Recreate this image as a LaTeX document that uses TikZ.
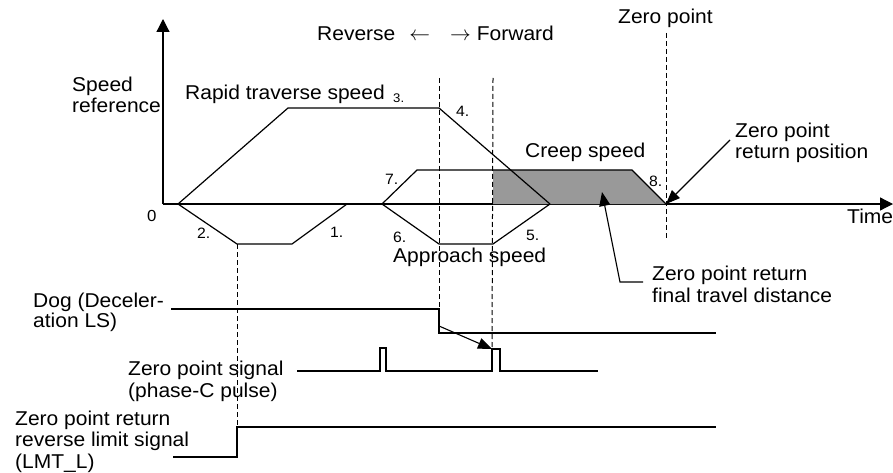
\documentclass[tikz,border=0pt]{standalone}
\usepackage{fontspec}
\setmainfont{Liberation Sans}[FakeStretch=1.05]
\usepackage{tikz}
\usetikzlibrary{arrows.meta}
\definecolor{creepgray}{RGB}{153,153,153}

\begin{document}
\begin{tikzpicture}[x=1pt, y=-1pt,
        line/.style={line width=1.2pt},
        guide/.style={line width=1pt, dash pattern=on 5pt off 3pt},
        label/.style={anchor=base west, inner sep=0pt, align=left, font=\fontsize{20}{21.5}\selectfont},
        num/.style={anchor=base west, inner sep=0pt, font=\fontsize{15}{15}\selectfont},
        arrow/.style={-{Triangle[length=13pt, width=13pt]}, line width=1.2pt},
        pointer/.style={-{Triangle[length=14pt, width=11pt]}, line width=1.1pt}
    ]
        \useasboundingbox (0,0) rectangle (893,473);

        % Axes
        \coordinate (O) at (163,204);
        \coordinate (ytop) at (163,19);
        \coordinate (xend) at (893,204);
        \draw[arrow] (O) -- (ytop);
        \draw[arrow] (O) -- (xend);

        % Speed profile points
        \coordinate (s0) at (178,204);
        \coordinate (r1) at (288,108);
        \coordinate (r2) at (439,108);
        \coordinate (r3) at (550,204);
        \coordinate (n1) at (237,244);
        \coordinate (n2) at (292,244);
        \coordinate (n3) at (347,204);
        \coordinate (a0) at (382,204);
        \coordinate (a1) at (439,244);
        \coordinate (a2) at (493,244);
        \coordinate (c1) at (417,170);
        \coordinate (c2) at (632,170);
        \coordinate (zp) at (666,204);

        % Final travel area
        \fill[creepgray] (a2 |- c1) -- (c2) -- (zp) -- (a2 |- zp) -- cycle;

        \draw[line] (s0) -- (r1) -- (r2) -- (r3);
        \draw[line] (s0) -- (n1) -- (n2) -- (n3);
        \draw[line] (a0) -- (a1) -- (a2) -- (r3);
        \draw[line] (a0) -- (c1) -- (c2) -- (zp);

        % Signals
        \coordinate (dogA) at (171,309);
        \coordinate (dogB) at (439,309);
        \coordinate (dogC) at (439,333);
        \coordinate (dogD) at (716,333);
        \draw[line] (dogA) -- (dogB) -- (dogC) -- (dogD);

        \coordinate (zsA) at (297,371);
        \coordinate (pls1) at (380,348);
        \coordinate (pls2) at (492,349);
        \coordinate (zsB) at (598,371);
        \draw[line] (zsA) -- (pls1 |- zsA) -- (pls1) -- ++(6,0) |- (pls2 |- zsA)
            -- (pls2) -- ++(8,0) |- (zsB);

        \coordinate (lmtA) at (173,457);
        \coordinate (lmtB) at (237,427);
        \coordinate (lmtC) at (716,427);
        \draw[line] (lmtA) -| (lmtB) -- (lmtC);

        % Dashed guides
        \draw[guide] (n1) -- (lmtB);
        \draw[guide] (439,78) -- (dogC);
        \draw[guide] (493,78) -- (pls2);
        \draw[guide] (666,33) -- (666,240);

        % Pointers
        \coordinate (dogtail) at (439,326);
        \draw[pointer] (dogtail) -- (pls2);
        \coordinate (zptail) at (730,140);
        \draw[pointer] (zptail) -- (zp);
        \coordinate (ftend) at (643,282);
        \coordinate (ftknee) at (620,282);
        \coordinate (fttip) at (602,192);
        \draw[pointer] (ftend) -- (ftknee) -- (fttip);

        % Labels (base = last line)
        \node[label] (zptop) at (618,24) {Zero point};
        \node[label] (dir) at (317,41) {Reverse\hspace{14pt}$\leftarrow$\hspace{20pt}$\rightarrow$\hspace{6pt}Forward};
        \node[label] (speedref) at (72,113) {Speed\\reference};
        \node[label] (rapid) at (185,100) {Rapid traverse speed};
        \node[label] (creep) at (525,158) {Creep speed};
        \node[label] (approach) at (393,262) {Approach speed};
        \node[label] (time) at (847,223) {Time};
        \node[label] (zpret) at (735,159) {Zero point\\return position};
        \node[label] (final) at (652,302) {Zero point return\\final travel distance};
        \node[label, font=\fontsize{20}{18.5}\selectfont] (dog) at (33,327) {Dog (Deceler-\\ation LS)};
        \node[label] (zsig) at (128,397) {Zero point signal\\(phase-C pulse)};
        \node[label] (lmt) at (15,468) {Zero point return\\reverse limit signal\\(LMT\_L)};

        \node[num, font=\fontsize{16}{16}\selectfont] (zero) at (147,221) {0};
        \node[num] (step1) at (330,237) {1.};
        \node[num] (step2) at (197,238) {2.};
        \node[num, font=\fontsize{12.5}{12.5}\selectfont] (step3) at (393,103) {3.};
        \node[num] (step4) at (456,117) {4.};
        \node[num] (step5) at (526,240) {5.};
        \node[num] (step6) at (393,242) {6.};
        \node[num] (step7) at (385,185) {7.};
        \node[num] (step8) at (649,186) {8.};
    \end{tikzpicture}
\end{document}
